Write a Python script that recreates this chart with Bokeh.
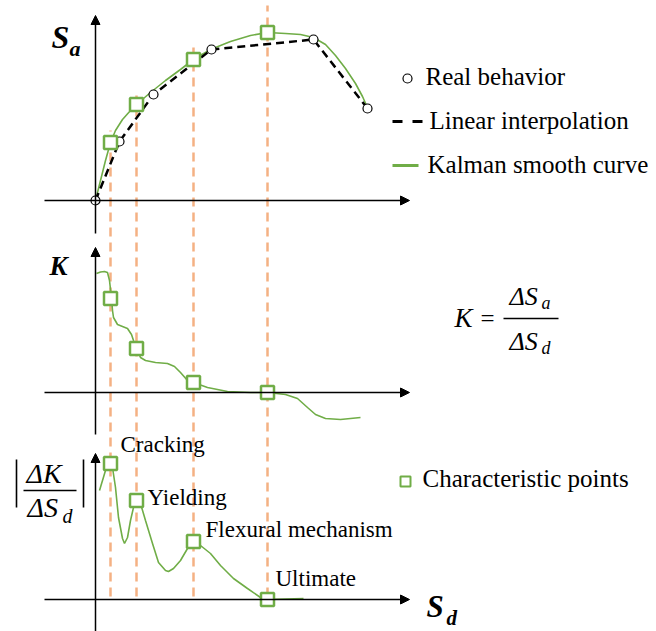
from bokeh.plotting import figure
from bokeh.models import Range1d, Arrow, NormalHead
from bokeh.core.properties import value
from bokeh.embed import file_html
from bokeh.resources import INLINE

# Top panel: spectral acceleration Sa vs spectral displacement Sd
real_sd = [0, 24, 58, 116, 218, 272]
real_sa = [0, 59, 106, 151, 161, 92]

kalman_sd = [0, 3, 6, 10, 15, 20, 27, 35, 41, 55, 70, 85, 98, 115, 135, 155,
             172, 190, 205, 218, 230, 240, 250, 260, 267, 271]
kalman_sa = [0, 12, 24, 40, 58, 70, 81, 90, 96, 108, 120, 131, 141, 151, 159, 165,
             168, 167, 166, 163, 156, 145, 132, 117, 104, 95]

# Characteristic points (Cracking, Yielding, Flexural mechanism, Ultimate)
char_sd = [15, 41, 98, 172]
char_sa = [58, 96, 141, 168]
char_k = [94, 44, 10, 0]
char_dk = [136, 99, 58, 0]
char_names = ["Cracking", "Yielding", "Flexural mechanism", "Ultimate"]

# Middle panel: secant stiffness K
k_sd = [1, 5, 9, 12, 14, 16, 17, 18, 22, 27, 32, 36, 38, 41, 45, 50, 60, 72, 79,
        85, 92, 98, 112, 132, 155, 172, 190, 202, 212, 220, 230, 245, 265]
k_val = [119, 120.5, 121, 120, 112, 94, 82, 75, 68, 66, 64, 58, 52, 44, 35, 32, 30,
         29, 26, 20, 12, 10, 5, 1, 0, 0, -2, -6, -15, -22, -26, -27, -25]

# Bottom panel: |dK/dSd|
dk_sd = [4, 7, 10, 13, 15, 17, 20, 23, 27, 29, 32, 35, 38, 41, 45, 50, 57, 63, 70,
         73, 78, 85, 92, 98, 105, 115, 125, 138, 152, 165, 172, 208]
dk_val = [109, 119, 129, 135, 136, 132, 112, 82, 61, 56, 62, 79, 92, 99, 96, 79, 56,
          37, 29, 28, 31, 39, 51, 58, 54, 46, 34, 21, 11, 2, 0, 1]

# layout of the three stacked panels (baseline of each panel in figure units)
TOP, MID, BOT = 431, 239, 32
GREEN = "#70ad47"
ORANGE = "#f4b183"
FONT = value("'Liberation Serif', serif")

# top ends of the orange guide lines (layout)
guide_top = [501, 536, 586, 626]


def X(px):
    return px - 95


def Y(py):
    return 631 - py


p = figure(width=656, height=631, output_backend="svg", toolbar_location=None,
           x_range=Range1d(-95, 561), y_range=Range1d(0, 631),
           x_axis_type=None, y_axis_type=None, min_border=0)
p.grid.visible = False
p.outline_line_color = None
p.background_fill_color = "white"
p.border_fill_color = "white"

# orange guide lines
p.segment(x0=char_sd, y0=[BOT + 3] * 4, x1=char_sd, y1=guide_top,
          line_color=ORANGE, line_width=2.5, line_dash="9 6")

# axes with arrows
head = lambda: NormalHead(size=9, fill_color="black", line_color="black", line_width=1)
for base, ybot, ytop in [(TOP, 398, 616), (MID, 197, 384), (BOT, -5, 178)]:
    p.add_layout(Arrow(end=head(), x_start=-51, y_start=base, x_end=314, y_end=base,
                       line_color="black", line_width=1.5))
    p.add_layout(Arrow(end=head(), x_start=0, y_start=ybot, x_end=0, y_end=ytop,
                       line_color="black", line_width=1.5))

# top panel
p.line(kalman_sd, [TOP + v for v in kalman_sa], line_color=GREEN, line_width=1.6)
p.line(real_sd, [TOP + v for v in real_sa], line_color="black", line_width=2.5, line_dash="8 5")
p.scatter(real_sd, [TOP + v for v in real_sa], marker="circle", size=9,
          fill_color="white", line_color="black", line_width=1.2)
p.scatter(char_sd, [TOP + v for v in char_sa], marker="square", size=13,
          fill_color="white", line_color=GREEN, line_width=2.5)

# middle panel
p.line(k_sd, [MID + v for v in k_val], line_color=GREEN, line_width=1.6)
p.scatter(char_sd, [MID + v for v in char_k], marker="square", size=13,
          fill_color="white", line_color=GREEN, line_width=2.5)

# bottom panel
p.line(dk_sd, [BOT + v for v in dk_val], line_color=GREEN, line_width=1.6)
p.scatter(char_sd, [BOT + v for v in char_dk], marker="square", size=13,
          fill_color="white", line_color=GREEN, line_width=2.5)

# baseline correction for rendered text (fraction of font size)
SHIFT = 0.36

# point labels
lab_x = [X(120), X(147), X(205), X(275)]
lab_y = [Y(452) + SHIFT * 23, Y(505) + SHIFT * 23, Y(537) + SHIFT * 23, Y(586) + SHIFT * 23]
p.text(lab_x, lab_y, text=char_names, text_font=FONT, text_font_size=value("23px"),
       text_baseline="alphabetic", text_align="left", text_color="black")


def txt(px, py, s, size, style="normal", align="left"):
    p.text([X(px)], [Y(py) + SHIFT * size], text=[s], text_font=FONT,
           text_font_size=value(f"{size}px"),
           text_font_style=style, text_baseline="alphabetic", text_align=align,
           text_color="black")


# axis titles
txt(51, 48, "S", 32, "bold italic")
txt(69, 56, "a", 22, "bold italic")
txt(49, 275, "K", 27, "bold italic")
txt(426, 617, "S", 31, "bold italic")
txt(446, 625, "d", 21, "bold italic")

# |dK / dSd|
p.segment(x0=[X(16), X(83)], y0=[Y(459), Y(459)], x1=[X(16), X(83)], y1=[Y(507), Y(507)],
          line_color="black", line_width=1.6)
p.segment(x0=[X(23)], y0=[Y(490)], x1=[X(76)], y1=[Y(490)], line_color="black", line_width=1.5)
txt(26, 483, "ΔK", 28, "italic")
txt(27, 517, "ΔS", 28, "italic")
txt(62, 523, "d", 20, "italic")

# formula K = dSa / dSd
txt(454, 327, "K", 27, "italic")
txt(480, 327, "=", 25)
p.segment(x0=[X(503)], y0=[Y(318)], x1=[X(558)], y1=[Y(318)], line_color="black", line_width=1.5)
txt(509, 305, "ΔS", 26, "italic")
txt(541, 309, "a", 18, "italic")
txt(509, 350, "ΔS", 26, "italic")
txt(541, 354, "d", 18, "italic")

# legend
p.scatter([X(407)], [Y(78)], marker="circle", size=9, fill_color="white",
          line_color="black", line_width=1.2)
txt(425, 85, "Real behavior", 25)
p.line([X(392), X(422)], [Y(121), Y(121)], line_color="black", line_width=3, line_dash="10 10")
txt(429, 129, "Linear interpolation", 25)
p.line([X(392), X(418)], [Y(165), Y(165)], line_color=GREEN, line_width=3)
txt(427, 173, "Kalman smooth curve", 25)
p.scatter([X(405)], [Y(481)], marker="square", size=10, fill_color="white",
          line_color=GREEN, line_width=2)
txt(422, 487, "Characteristic points", 25)

open("out.html", "w").write(file_html(p, INLINE))
